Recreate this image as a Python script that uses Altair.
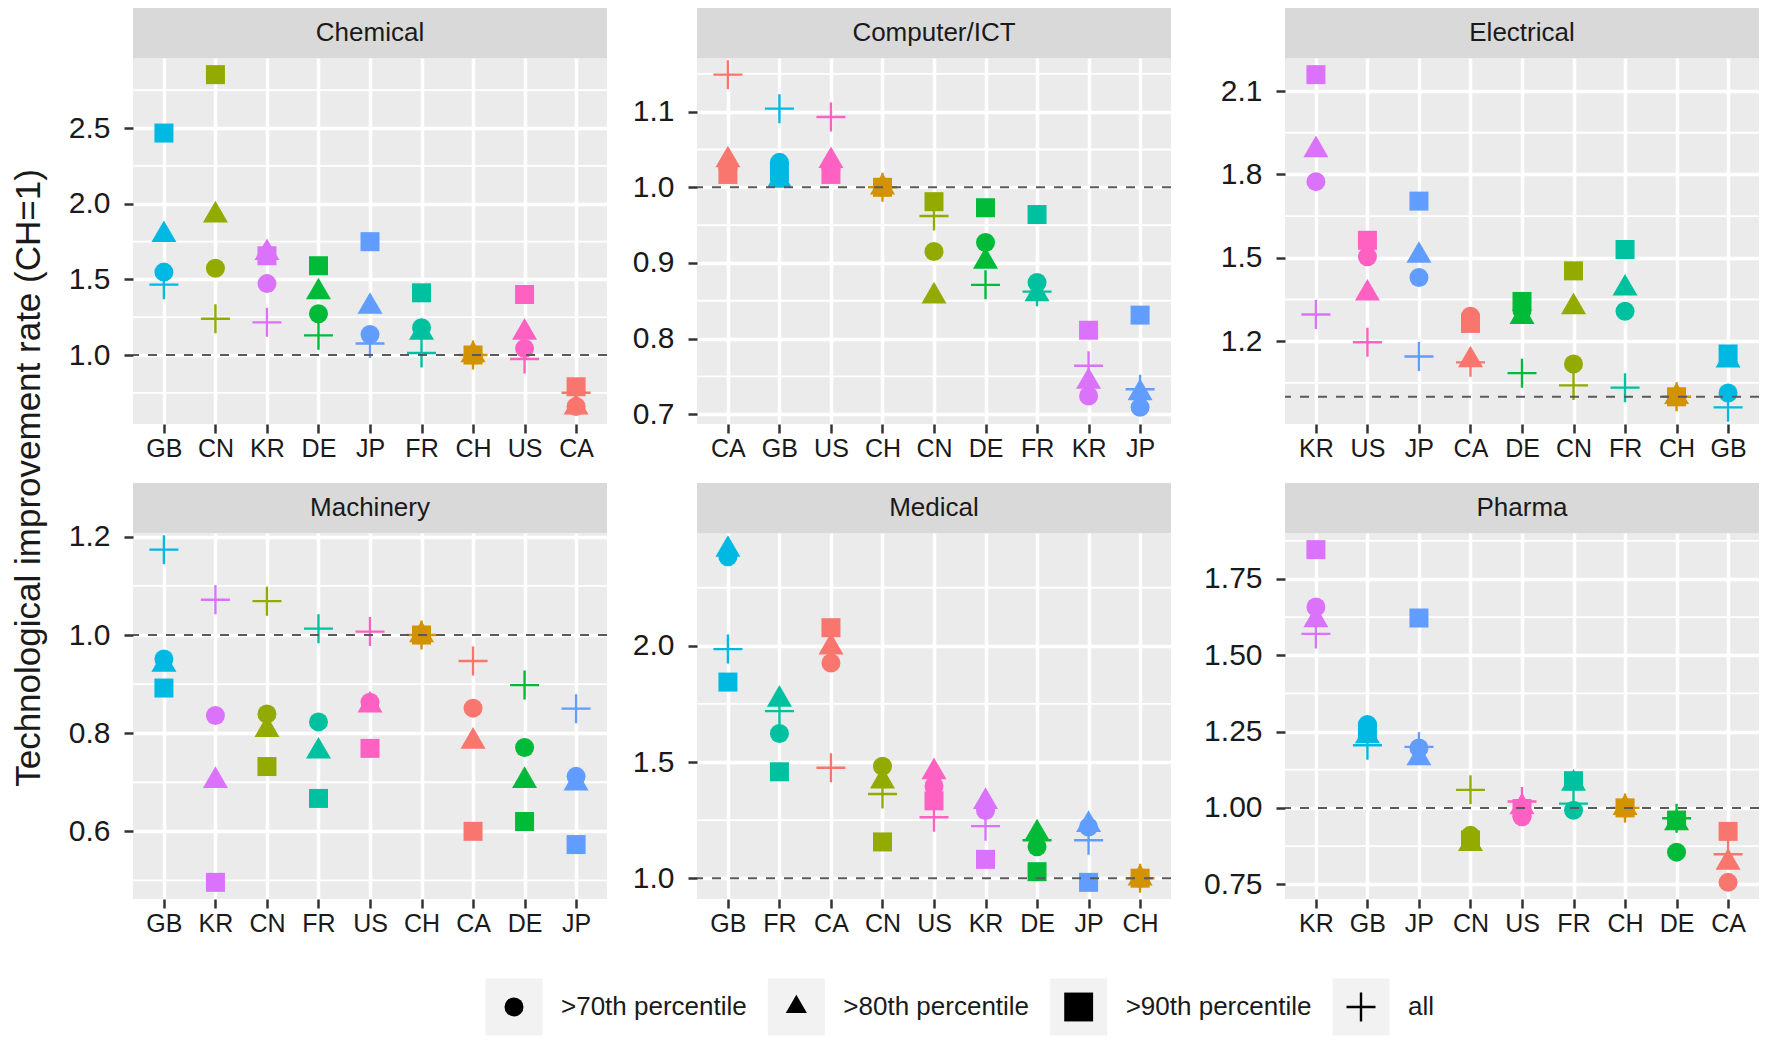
import altair as alt
import pandas as pd

FONT = "Liberation Sans"
TEXT = "#1A1A1A"

countries = ["CA", "CH", "CN", "DE", "FR", "GB", "JP", "KR", "US"]
country_colors = ["#F8766D", "#D39200", "#93AA00", "#00BA38", "#00C19F",
                  "#00B9E3", "#619CFF", "#DB72FB", "#FF61C3"]
groups = [">70th percentile", ">80th percentile", ">90th percentile", "all"]
y_title = "Technological improvement rate (CH=1)"

# ---- Chemical
chemical_order = ["GB", "CN", "KR", "DE", "JP", "FR", "CH", "US", "CA"]
chemical_p70 = [1.548, 1.574, 1.472, 1.273, 1.136, 1.180, 1.0, 1.043, 0.660]
chemical_p80 = [1.794, 1.924, 1.675, 1.416, 1.320, 1.149, 1.0, 1.149, 0.654]
chemical_p90 = [2.467, 2.853, 1.656, 1.590, 1.749, 1.411, 1.0, 1.400, 0.790]
chemical_all = [1.465, 1.240, 1.216, 1.130, 1.076, 1.013, 1.0, 0.974, 0.751]
chemical_ticks = [1.0, 1.5, 2.0, 2.5]
chemical_minor = [0.75, 1.25, 1.75, 2.25, 2.75]

# ---- Computer/ICT
computer_order = ["CA", "GB", "US", "CH", "CN", "DE", "FR", "KR", "JP"]
computer_p70 = [1.025, 1.033, 1.025, 1.0, 0.915, 0.927, 0.874, 0.724, 0.709]
computer_p80 = [1.036, 1.009, 1.035, 1.0, 0.856, 0.902, 0.859, 0.743, 0.728]
computer_p90 = [1.017, 1.020, 1.017, 1.0, 0.981, 0.973, 0.964, 0.811, 0.831]
computer_all = [1.149, 1.104, 1.093, 1.0, 0.962, 0.871, 0.862, 0.764, 0.733]
computer_ticks = [0.7, 0.8, 0.9, 1.0, 1.1]
computer_minor = [0.75, 0.85, 0.95, 1.05, 1.15]

# ---- Electrical
electrical_order = ["KR", "US", "JP", "CA", "DE", "CN", "FR", "CH", "GB"]
electrical_p70 = [1.774, 1.504, 1.429, 1.290, 1.310, 1.118, 1.308, 1.0, 1.014]
electrical_p80 = [1.888, 1.372, 1.508, 1.132, 1.288, 1.323, 1.390, 1.0, 1.131]
electrical_p90 = [2.159, 1.563, 1.704, 1.264, 1.343, 1.453, 1.530, 1.0, 1.154]
electrical_all = [1.296, 1.196, 1.145, 1.124, 1.085, 1.041, 1.033, 1.0, 0.962]
electrical_ticks = [1.2, 1.5, 1.8, 2.1]
electrical_minor = [1.05, 1.35, 1.65, 1.95]

# ---- Machinery
machinery_order = ["GB", "KR", "CN", "FR", "US", "CH", "CA", "DE", "JP"]
machinery_p70 = [0.951, 0.836, 0.839, 0.823, 0.863, 1.0, 0.851, 0.771, 0.712]
machinery_p80 = [0.940, 0.703, 0.807, 0.763, 0.857, 1.0, 0.783, 0.703, 0.698]
machinery_p90 = [0.892, 0.496, 0.732, 0.667, 0.769, 1.0, 0.600, 0.620, 0.573]
machinery_all = [1.174, 1.072, 1.069, 1.013, 1.007, 1.0, 0.947, 0.898, 0.850]
machinery_ticks = [0.6, 0.8, 1.0, 1.2]
machinery_minor = [0.5, 0.7, 0.9, 1.1]

# ---- Medical
medical_order = ["GB", "FR", "CA", "CN", "US", "KR", "DE", "JP", "CH"]
medical_p70 = [2.383, 1.623, 1.926, 1.482, 1.397, 1.291, 1.135, 1.220, 1.0]
medical_p80 = [2.414, 1.769, 1.994, 1.417, 1.457, 1.329, 1.194, 1.230, 1.0]
medical_p90 = [1.844, 1.458, 2.078, 1.156, 1.333, 1.081, 1.028, 0.982, 1.0]
medical_all = [1.986, 1.719, 1.475, 1.362, 1.262, 1.224, 1.163, 1.163, 1.0]
medical_ticks = [1.0, 1.5, 2.0]
medical_minor = [1.25, 1.75, 2.25]

# ---- Pharma
pharma_order = ["KR", "GB", "JP", "CN", "US", "FR", "CH", "DE", "CA"]
pharma_p70 = [1.658, 1.273, 1.196, 0.910, 0.971, 0.992, 1.0, 0.855, 0.756]
pharma_p80 = [1.615, 1.235, 1.163, 0.882, 1.003, 1.080, 1.0, 0.950, 0.821]
pharma_p90 = [1.846, 1.250, 1.622, 0.895, 0.998, 1.089, 1.0, 0.960, 0.923]
pharma_all = [1.570, 1.205, 1.200, 1.059, 1.021, 1.014, 1.0, 0.966, 0.848]
pharma_ticks = [0.75, 1.0, 1.25, 1.5, 1.75]
pharma_minor = [0.875, 1.125, 1.375, 1.625, 1.875]

TRI = "M0,-1L0.866,0.5L-0.866,0.5Z"
PLUS = "M-1,0L1,0M0,-1L0,1"
W, H = 474, 366
STRIP = 50


def make_panel(name, order, p70, p80, p90, allv, ticks, minor, fmt, extent):
    recs = []
    for g, arr in zip(groups, [p70, p80, p90, allv]):
        for c, v in zip(order, arr):
            recs.append({"country": c, "group": g, "value": v})
    df = pd.DataFrame(recs)
    lo, hi = df["value"].min(), df["value"].max()
    pad = 0.05 * (hi - lo)
    dom = [lo - pad, hi + pad]
    yscale = alt.Scale(domain=dom, nice=False, zero=False)
    y_enc = alt.Y("value:Q", scale=yscale, axis=alt.Axis(
        title=None, values=ticks, format=fmt, labelFontSize=30, labelColor=TEXT,
        labelFont=FONT, labelPadding=14, domain=False, tickColor="#333333",
        tickSize=9, tickWidth=2.5, grid=True, gridColor="white", gridWidth=3.5,
        minExtent=extent, maxExtent=extent, labelOverlap=False))
    x_enc = alt.X("country:N", sort=order,
                  scale=alt.Scale(type="point", padding=0.6, domain=order),
                  axis=alt.Axis(title=None, labelAngle=0, labelFontSize=25,
                                labelColor=TEXT, labelFont=FONT, labelPadding=3,
                                domain=False, tickColor="#333333", tickSize=9,
                                tickWidth=2.5, grid=True, gridColor="white",
                                gridWidth=3.5, minExtent=40, maxExtent=40,
                                labelOverlap=False))
    color_enc = alt.Color("country:N", scale=alt.Scale(domain=countries, range=country_colors),
                          legend=None)

    minor_df = pd.DataFrame({"value": [m for m in minor if dom[0] <= m <= dom[1]]})
    minor_layer = alt.Chart(minor_df).mark_rule(color="white", strokeWidth=1.8).encode(y=y_enc)

    def pts(group, shape, size):
        return alt.Chart(df[df["group"] == group]).mark_point(
            shape=shape, size=size, filled=True, opacity=1, strokeWidth=0
        ).encode(x=x_enc, y=y_enc, color=color_enc)

    circ = pts(groups[0], "circle", 361)
    tri = pts(groups[1], TRI, 834)
    sq = pts(groups[2], "square", 361)
    plus = alt.Chart(df[df["group"] == groups[3]]).mark_point(
        shape=PLUS, size=841, filled=False, opacity=1, strokeWidth=2.4
    ).encode(x=x_enc, y=y_enc, color=color_enc)

    hline = alt.Chart(pd.DataFrame({"value": [1.0]})).mark_rule(
        color="#5A5A5A", strokeWidth=2, strokeDash=[9, 9]).encode(y=y_enc)

    name_df = pd.DataFrame({"name": [name]})
    strip_rect = alt.Chart(name_df).mark_rect(color="#D9D9D9").encode(
        x=alt.value(0), x2=alt.value(W), y=alt.value(-STRIP), y2=alt.value(0))
    strip_text = alt.Chart(name_df).mark_text(
        fontSize=26, color=TEXT, font=FONT, baseline="middle", align="center"
    ).encode(x=alt.value(W / 2), y=alt.value(-STRIP / 2), text="name:N")

    return alt.layer(minor_layer, circ, tri, sq, plus, hline, strip_rect, strip_text).properties(
        width=W, height=H, view=alt.ViewBackground(fill="#EBEBEB", stroke=None))


p1 = make_panel("Chemical", chemical_order, chemical_p70, chemical_p80, chemical_p90,
                chemical_all, chemical_ticks, chemical_minor, ".1f", 66)
p2 = make_panel("Computer/ICT", computer_order, computer_p70, computer_p80, computer_p90,
                computer_all, computer_ticks, computer_minor, ".1f", 69)
p3 = make_panel("Electrical", electrical_order, electrical_p70, electrical_p80, electrical_p90,
                electrical_all, electrical_ticks, electrical_minor, ".1f", 93)
p4 = make_panel("Machinery", machinery_order, machinery_p70, machinery_p80, machinery_p90,
                machinery_all, machinery_ticks, machinery_minor, ".1f", 66)
p5 = make_panel("Medical", medical_order, medical_p70, medical_p80, medical_p90,
                medical_all, medical_ticks, medical_minor, ".1f", 69)
p6 = make_panel("Pharma", pharma_order, pharma_p70, pharma_p80, pharma_p90,
                pharma_all, pharma_ticks, pharma_minor, ".2f", 93)

grid = alt.concat(p1, p2, p3, p4, p5, p6, columns=3,
                  spacing={"row": 19, "column": 20}, align="each")

title_chart = alt.Chart(pd.DataFrame({"t": [y_title]})).mark_text(
    angle=270, fontSize=35, color=TEXT, font=FONT, baseline="middle", align="center"
).encode(text="t:N", x=alt.value(21), y=alt.value(420)).properties(
    width=40, height=841, view=alt.ViewBackground(stroke=None))

upper = alt.hconcat(title_chart, grid, spacing=19)

# ---- legend
legend_df = pd.DataFrame({"group": groups})
lx = alt.X("group:N", sort=groups,
           scale=alt.Scale(type="point", domain=groups, range=[506, 1353], padding=0),
           axis=None)
leg_base = alt.Chart(legend_df).encode(x=lx, y=alt.value(28))
leg_boxes = leg_base.mark_point(shape="square", size=3249, filled=True, color="#F2F2F2",
                                opacity=1, strokeWidth=0)
leg_fill = alt.Chart(legend_df.iloc[:3]).mark_point(filled=True, color="black", opacity=1,
                                                    strokeWidth=0).encode(
    x=lx, y=alt.value(28),
    shape=alt.Shape("group:N", scale=alt.Scale(domain=groups[:3], range=["circle", TRI, "square"]),
                    legend=None),
    size=alt.Size("group:N", scale=alt.Scale(domain=groups[:3], range=[361, 834, 361]),
                  legend=None))
leg_plus = alt.Chart(legend_df.iloc[3:]).mark_point(shape=PLUS, size=841, filled=False,
                                                    color="black", opacity=1,
                                                    strokeWidth=2.4).encode(x=lx, y=alt.value(28))
leg_text = leg_base.mark_text(align="left", baseline="middle", dx=47, fontSize=26, color=TEXT,
                              font=FONT).encode(text="group:N")
legend_chart = alt.layer(leg_boxes, leg_fill, leg_plus, leg_text).properties(
    width=1700, height=56, view=alt.ViewBackground(stroke=None))

chart = alt.vconcat(upper, legend_chart, spacing=39).properties(padding=0).configure_view(
    stroke=None).configure(font=FONT)

chart.save("out.html", embed_options={"renderer": "svg", "actions": False})
